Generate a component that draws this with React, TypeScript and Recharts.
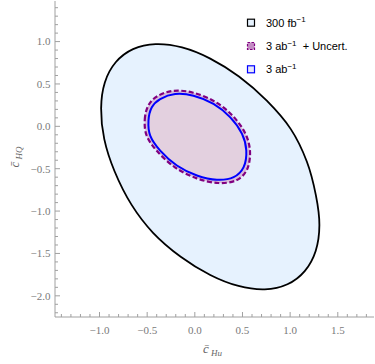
import React from 'react';
import { LineChart, Line, XAxis, YAxis, Legend } from 'recharts';

const X_DOMAIN: [number, number] = [-1.467, 1.88];
const Y_DOMAIN: [number, number] = [-2.25, 1.479];

const xTicks = [-1.4, -1.3, -1.2, -1.1, -1.0, -0.9, -0.8, -0.7, -0.6, -0.5, -0.4, -0.3, -0.2, -0.1, 0.0, 0.1, 0.2, 0.3, 0.4, 0.5, 0.6, 0.7, 0.8, 0.9, 1.0, 1.1, 1.2, 1.3, 1.4, 1.5, 1.6, 1.7, 1.8];
const yTicks = [-2.2, -2.1, -2.0, -1.9, -1.8, -1.7, -1.6, -1.5, -1.4, -1.3, -1.2, -1.1, -1.0, -0.9, -0.8, -0.7, -0.6, -0.5, -0.4, -0.3, -0.2, -0.1, 0.0, 0.1, 0.2, 0.3, 0.4, 0.5, 0.6, 0.7, 0.8, 0.9, 1.0, 1.1, 1.2, 1.3, 1.4];

// 300 fb^-1 contour
const contour300fb = [
  { x: 1.307, y: -1.165 }, { x: 1.268, y: -1.471 }, { x: 1.153, y: -1.709 }, { x: 0.972, y: -1.864 },
  { x: 0.734, y: -1.924 }, { x: 0.458, y: -1.884 }, { x: 0.162, y: -1.754 }, { x: -0.148, y: -1.539 },
  { x: -0.438, y: -1.256 }, { x: -0.663, y: -0.927 }, { x: -0.841, y: -0.533 }, { x: -0.950, y: -0.151 },
  { x: -0.983, y: 0.212 }, { x: -0.944, y: 0.518 }, { x: -0.830, y: 0.756 }, { x: -0.648, y: 0.911 },
  { x: -0.411, y: 0.970 }, { x: -0.134, y: 0.931 }, { x: 0.162, y: 0.799 }, { x: 0.463, y: 0.587 },
  { x: 0.755, y: 0.302 }, { x: 1.007, y: -0.033 }, { x: 1.175, y: -0.415 }, { x: 1.270, y: -0.812 },
];

// 3 ab^-1 + uncertainties contour
const contour3abUnc = [
  { x: -0.525, y: 0.081 }, { x: -0.487, y: 0.246 }, { x: -0.392, y: 0.356 }, { x: -0.223, y: 0.419 },
  { x: -0.017, y: 0.397 }, { x: 0.209, y: 0.293 }, { x: 0.398, y: 0.123 }, { x: 0.530, y: -0.085 },
  { x: 0.579, y: -0.298 }, { x: 0.548, y: -0.509 }, { x: 0.436, y: -0.636 }, { x: 0.247, y: -0.669 },
  { x: 0.020, y: -0.614 }, { x: -0.205, y: -0.487 }, { x: -0.392, y: -0.298 }, { x: -0.505, y: -0.110 },
];

// 3 ab^-1 contour
const contour3ab = [
  { x: -0.486, y: 0.067 }, { x: -0.451, y: 0.224 }, { x: -0.363, y: 0.322 }, { x: -0.206, y: 0.381 },
  { x: -0.014, y: 0.361 }, { x: 0.196, y: 0.264 }, { x: 0.372, y: 0.106 }, { x: 0.495, y: -0.089 },
  { x: 0.540, y: -0.286 }, { x: 0.512, y: -0.482 }, { x: 0.407, y: -0.600 }, { x: 0.232, y: -0.631 },
  { x: 0.022, y: -0.580 }, { x: -0.188, y: -0.462 }, { x: -0.363, y: -0.286 }, { x: -0.468, y: -0.109 },
];

// closed Catmull-Rom curve factory (d3 curve interface)
const closedSmooth: any = (context: any) => {
  let pts: number[][] = [];
  return {
    areaStart() {},
    areaEnd() {},
    lineStart() { pts = []; },
    point(x: number, y: number) { pts.push([+x, +y]); },
    lineEnd() {
      const n = pts.length;
      if (!n) return;
      context.moveTo(pts[0][0], pts[0][1]);
      for (let i = 0; i < n; i++) {
        const p0 = pts[(i - 1 + n) % n];
        const p1 = pts[i];
        const p2 = pts[(i + 1) % n];
        const p3 = pts[(i + 2) % n];
        context.bezierCurveTo(
          p1[0] + (p2[0] - p0[0]) / 6, p1[1] + (p2[1] - p0[1]) / 6,
          p2[0] - (p3[0] - p1[0]) / 6, p2[1] - (p3[1] - p1[1]) / 6,
          p2[0], p2[1]
        );
      }
      context.closePath();
    },
  };
};

const AXIS_COLOR = '#a0a0a0';
const LABEL_COLOR = '#7a7a7a';
const SERIF = '"Liberation Serif", "DejaVu Serif", serif';
const SANS = '"Liberation Sans", Arial, sans-serif';

const isMajor = (v: number) => Math.abs(v * 2 - Math.round(v * 2)) < 1e-6;
const fmt = (v: number) => {
  const s = Math.abs(v).toFixed(1);
  return v < -1e-9 ? '\u2212' + s : s;
};

const BottomTick = (props: any) => {
  const { x, y, payload } = props;
  const major = isMajor(payload.value);
  return (
    <g>
      <line x1={x} x2={x} y1={y} y2={y - (major ? 5 : 3)} stroke={AXIS_COLOR} strokeWidth={1} />
      {major && (
        <text x={x} y={y + 17} textAnchor="middle" fontFamily={SERIF} fontSize={11} fill={LABEL_COLOR}>
          {fmt(payload.value)}
        </text>
      )}
    </g>
  );
};

const TopTick = (props: any) => {
  const { x, y, payload } = props;
  const major = isMajor(payload.value);
  return <line x1={x} x2={x} y1={y} y2={y + (major ? 5 : 3)} stroke={AXIS_COLOR} strokeWidth={1} />;
};

const LeftTick = (props: any) => {
  const { x, y, payload } = props;
  const major = isMajor(payload.value);
  return (
    <g>
      <line x1={x} x2={x + (major ? 5 : 3)} y1={y} y2={y} stroke={AXIS_COLOR} strokeWidth={1} />
      {major && (
        <text x={x - 4.5} y={y + 3.8} textAnchor="end" fontFamily={SERIF} fontSize={11} fill={LABEL_COLOR}>
          {fmt(payload.value)}
        </text>
      )}
    </g>
  );
};

const RightTick = (props: any) => {
  const { x, y, payload } = props;
  const major = isMajor(payload.value);
  return <line x1={x} x2={x - (major ? 5 : 3)} y1={y} y2={y} stroke={AXIS_COLOR} strokeWidth={1} />;
};

const XLabel = (props: any) => {
  const vb = props.viewBox || {};
  const cx = vb.x + vb.width / 2;
  return (
    <text x={cx - 2} y={353} textAnchor="middle" fontFamily={SERIF} fill="#666">
      <tspan fontStyle="italic" fontSize={13}>{'c\u0304'}</tspan>
      <tspan fontStyle="italic" fontSize={9} dy={3}>{' Hu'}</tspan>
    </text>
  );
};

const YLabel = (props: any) => {
  const vb = props.viewBox || {};
  const cy = vb.y + vb.height / 2 - 2;
  return (
    <text x={19} y={cy} transform={`rotate(-90, 19, ${cy})`} textAnchor="middle" fontFamily={SERIF} fill="#666">
      <tspan fontStyle="italic" fontSize={13}>{'c\u0304'}</tspan>
      <tspan fontStyle="italic" fontSize={9} dy={3}>{' HQ'}</tspan>
    </text>
  );
};

const legendItems = [
  { key: 'a', main: '300 fb', rest: '', fill: '#e6f2fe', stroke: '#000000', dash: '' },
  { key: 'b', main: '3 ab', rest: '  + Uncert.', fill: '#c48cc4', stroke: '#800080', dash: '2.5 1.5' },
  { key: 'c', main: '3 ab', rest: '', fill: '#e6e6f8', stroke: '#0000ff', dash: '' },
];

const LegendContent = () => (
  <svg width={135} height={75} style={{ display: 'block' }}>
    {legendItems.map((it, i) => {
      const cy = 12.7 + i * 23.3;
      return (
        <g key={it.key}>
          <rect x={7.5} y={cy - 3.5} width={7} height={7} fill={it.fill} stroke={it.stroke} strokeWidth={1.2} strokeDasharray={it.dash || undefined} />
          <text x={26} y={cy + 4} fontFamily={SANS} fontSize={11} fill="#000" style={{ whiteSpace: 'pre' }}>
            {it.main}
            <tspan dy={-4.5} fontSize={8}>{'\u22121'}</tspan>
            {it.rest && <tspan dy={4.5}>{'\u00a0 + Uncert.'}</tspan>}
          </text>
        </g>
      );
    })}
  </svg>
);

export default function App() {
  return (
    <div style={{ width: 375, height: 364, position: 'relative' }}>
      <style>{`
        body { margin: 0; }
        .ell-outer path.recharts-line-curve { fill: #e6f2fe; }
        .ell-unc path.recharts-line-curve { fill: #d9bcd9; }
        .ell-3ab path.recharts-line-curve { fill: #e3d0df; }
      `}</style>
      <LineChart width={375} height={364} margin={{ top: 1, right: 1, bottom: 0, left: 0 }}>
        <XAxis
          xAxisId="b" dataKey="x" type="number" domain={X_DOMAIN} allowDataOverflow
          ticks={xTicks} interval={0} tickLine={false} tickSize={0} tickMargin={0} height={47}
          axisLine={{ stroke: AXIS_COLOR }} tick={<BottomTick />} label={XLabel}
        />
        <XAxis
          xAxisId="t" orientation="top" dataKey="x" type="number" domain={X_DOMAIN} allowDataOverflow
          ticks={xTicks} interval={0} tickLine={false} tickSize={0} tickMargin={0} height={0}
          axisLine={{ stroke: AXIS_COLOR }} tick={<TopTick />}
        />
        <YAxis
          yAxisId="l" type="number" domain={Y_DOMAIN} allowDataOverflow
          ticks={yTicks} interval={0} tickLine={false} tickSize={0} tickMargin={0} width={55}
          axisLine={{ stroke: AXIS_COLOR }} tick={<LeftTick />} label={YLabel}
        />
        <YAxis
          yAxisId="r" orientation="right" type="number" domain={Y_DOMAIN} allowDataOverflow
          ticks={yTicks} interval={0} tickLine={false} tickSize={0} tickMargin={0} width={0}
          axisLine={{ stroke: AXIS_COLOR }} tick={<RightTick />}
        />
        <Line
          className="ell-outer" xAxisId="b" yAxisId="l" data={contour300fb} dataKey="y"
          type={closedSmooth} stroke="#000" strokeWidth={1.8} dot={false} activeDot={false} isAnimationActive={false}
        />
        <Line
          className="ell-unc" xAxisId="b" yAxisId="l" data={contour3abUnc} dataKey="y"
          type={closedSmooth} stroke="#800080" strokeWidth={2.2} strokeDasharray="5 2.5" dot={false} activeDot={false} isAnimationActive={false}
        />
        <Line
          className="ell-3ab" xAxisId="b" yAxisId="l" data={contour3ab} dataKey="y"
          type={closedSmooth} stroke="#0000ff" strokeWidth={2} dot={false} activeDot={false} isAnimationActive={false}
        />
        <Legend
          layout="vertical" align="center" verticalAlign="middle"
          content={LegendContent}
          wrapperStyle={{ position: 'absolute', left: 240, top: 10, width: 135, height: 75 }}
        />
      </LineChart>
    </div>
  );
}
